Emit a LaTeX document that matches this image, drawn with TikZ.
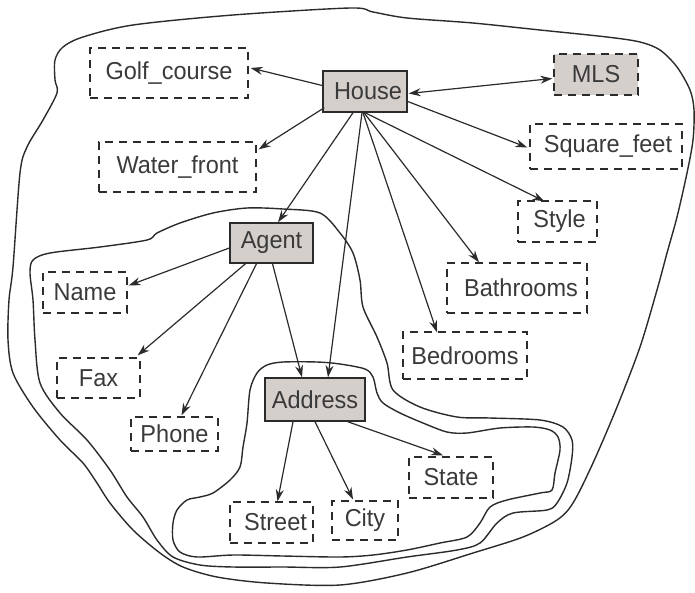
\documentclass[tikz,border=0pt]{standalone}
\usepackage{fontspec}
\setmainfont{Liberation Sans}[FakeStretch=0.96]
\usetikzlibrary{calc,arrows.meta}
\definecolor{ink}{HTML}{2B2B2B}
\definecolor{txt}{HTML}{3A3A3A}
\definecolor{boxfill}{HTML}{D5CFCC}
\tikzset{
  attr/.style={draw=ink, line width=1.3pt, dash pattern=on 8pt off 6pt, inner sep=0pt, font=\fontsize{24.5}{27}\selectfont, text=txt},
  entity/.style={draw=ink, line width=1.4pt, fill=boxfill, inner sep=0pt, font=\fontsize{24.5}{27}\selectfont, text=txt},
  link/.style={draw=ink, line width=1.2pt, -{Stealth[length=12pt,width=8pt]}},
  blob/.style={draw=ink, line width=1.4pt}
}
\begin{document}
\begin{tikzpicture}[x=1pt,y=-1pt]
\useasboundingbox (0,0) rectangle (695,592);
% outlines
\draw[blob] plot[smooth cycle, tension=0.5] coordinates {
 (350,8) (233,15) (133,25) (83,37) (63,47) (55,60) (55,80) (57,93) (43,120) (27,147) (20,173) (13,267)
 (9,300) (8,340) (13,373) (33,407) (60,440) (83,463) (97,483) (110,503) (133,530) (160,553) (183,567) (217,577) (267,583) (340,585)
 (407,573) (473,553) (523,537) (557,520) (573,503) (593,463) (617,407) (640,347) (657,290)
 (667,253) (677,217) (687,173) (693,140) (694,110) (690,90) (677,67) (660,50) (640,42) (607,37) (540,30) (473,23) (407,18) (373,12)};
\draw[blob] plot[smooth cycle, tension=0.5] coordinates {
 (353,253) (340,233) (320,213) (283,209) (247,208) (213,213) (180,223) (157,233) (147,240) (100,247) (50,253) (33,260) (30,273)
 (33,300) (35,340) (40,383) (60,413) (87,440) (110,470) (127,497) (143,517) (157,540) (173,557) (200,565) (233,567) (283,567)
 (340,567) (407,557) (457,550) (480,543) (497,523) (513,513) (547,510) (557,503) (567,483) (572,457) (572,440) (563,427) (540,420)
 (490,418) (457,417) (420,407) (393,390) (387,363) (377,337) (363,307) (360,280)};
\draw[blob] plot[smooth cycle, tension=0.5] coordinates {
 (340,364) (317,362) (283,362) (267,365) (257,373) (250,390) (247,423) (243,447) (240,467) (230,480) (213,493) (200,497) (187,500)
 (177,510) (173,523) (173,540) (180,552) (197,557) (233,555) (283,556) (340,557) (373,555) (407,550) (440,543) (467,537) (480,523)
 (490,507) (507,500) (540,493) (552,490) (555,473) (560,450) (558,437) (550,430) (533,427) (500,428) (467,433) (447,432) (423,423)
 (400,413) (383,403) (377,393) (373,377) (365,369)};
% nodes
\node[entity, minimum width=84pt, minimum height=41pt] (House) at (365,91.5) {\hspace{6pt}House};
\node[attr, fill=boxfill, minimum width=84pt, minimum height=41pt] (MLS) at (596,74.5) {MLS};
\node[attr, minimum width=158pt, minimum height=50pt] (Golf) at (169,73) {Golf\_course};
\node[attr, minimum width=157pt, minimum height=50pt] (Water) at (177.5,167) {Water\_front};
\node[attr, minimum width=152pt, minimum height=45pt] (Sqft) at (606,146.5) {\hspace{4pt}Square\_feet};
\node[attr, minimum width=79pt, minimum height=41pt] (Style) at (557.5,221.5) {\hspace{4pt}Style};
\node[attr, minimum width=140pt, minimum height=50pt] (Bath) at (517,288) {\hspace{8pt}Bathrooms};
\node[attr, minimum width=124pt, minimum height=47pt] (Bed) at (465,355.5) {Bedrooms};
\node[entity, minimum width=83pt, minimum height=40pt] (Agent) at (271.5,243) {Agent};
\node[attr, minimum width=84pt, minimum height=41pt] (Name) at (85,292.5) {Name};
\node[attr, minimum width=83pt, minimum height=40pt] (Fax) at (98.5,378) {Fax};
\node[attr, minimum width=87pt, minimum height=34pt] (Phone) at (174.5,434) {Phone};
\node[entity, minimum width=100pt, minimum height=43pt] (Address) at (315,399.5) {Address};
\node[attr, minimum width=83pt, minimum height=41pt] (Street) at (271.5,522.5) {\hspace{8pt}Street};
\node[attr, minimum width=66pt, minimum height=39pt] (City) at (365,520.5) {City};
\node[attr, minimum width=84pt, minimum height=41pt] (State) at (451,477.5) {State};
% connectors
\draw[link] ($(House.west)+(0,-6)$) -- ($(Golf.east)+(2,-5)$);
\draw[link] ($(House.south west)+(2,-5)$) -- ($(Water.north east)+(2,8)$);
\draw[link, {Stealth[length=12pt,width=8pt]}-{Stealth[length=12pt,width=8pt]}] ($(House.east)+(1,2)$) -- ($(MLS.west)+(-1,4)$);
\draw[link] ($(House.east)+(0,10)$) -- ($(Sqft.west)+(-2,1)$);
\draw[link] ($(House.south)+(0,0)$) -- ($(Style.north)+(-13,1)$);
\draw[link] ($(House.south)+(-1,0)$) -- ($(Bath.north)+(-38,0)$);
\draw[link] ($(House.south)+(-2,0)$) -- ($(Bed.north)+(-28,1)$);
\draw[link] ($(House.south)+(-3,0)$) -- ($(Address.north)+(13,0)$);
\draw[link] ($(House.south)+(-12,0)$) -- ($(Agent.north)+(6.5,0)$);
\draw[link] ($(Agent.west)+(0,5)$) -- ($(Name.east)+(1,-7)$);
\draw[link] ($(Agent.south)+(-26,0)$) -- ($(Fax.north east)+(-3,-2)$);
\draw[link] ($(Agent.south)+(-15,0)$) -- ($(Phone.north)+(7,-1)$);
\draw[link] ($(Agent.south)+(1,0)$) -- ($(Address.north)+(-13,0)$);
\draw[link] ($(Address.south)+(-22,0)$) -- ($(Street.north)+(6,0)$);
\draw[link] ($(Address.south)+(0,0)$) -- ($(City.north)+(-12,-1)$);
\draw[link] ($(Address.south east)+(-18,0)$) -- ($(State.north)+(-8,-1)$);
\end{tikzpicture}
\end{document}
